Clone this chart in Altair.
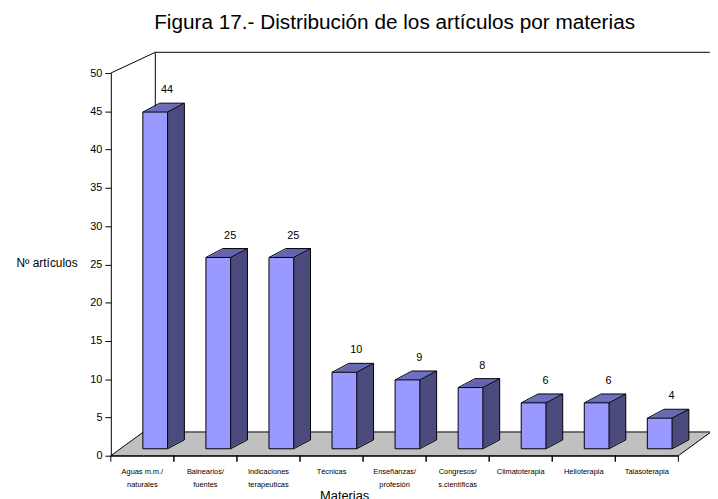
import altair as alt
import pandas as pd

# ---- data ----
categories = [
    "Aguas m.m./\nnaturales",
    "Balnearios/\nfuentes",
    "Indicaciones\nterapeuticas",
    "Técnicas",
    "Enseñanzas/\nprofesión",
    "Congresos/\ns.científicas",
    "Climatoterapia",
    "Helioterapia",
    "Talasoterapia",
]
values = [44, 25, 25, 10, 9, 8, 6, 6, 4]
y_ticks = [0, 5, 10, 15, 20, 25, 30, 35, 40, 45, 50]

title_text = "Figura 17.- Distribución de los artículos por materias"
y_title = "Nº artículos"
x_title = "Materias"

df = pd.DataFrame({"cat": categories, "val": values})

# ---- style / geometry (pixels) ----
FONT = "Liberation Sans, Arial, sans-serif"
FRONT = "#9999FF"
TOP = "#7070C0"
SIDE = "#4B4B7E"
FLOOR = "#C0C0C0"
W = 25          # bar front width
FX = 13         # bar shift right from band centre
BY = -7         # bar base lift above axis
DX, DY = 17, -9  # depth of the 3-D box
N = 9           # extrusion steps
PW, PH = 574, 387
HALF = PW / len(categories) / 2   # half a category step

xscale = alt.Scale(paddingInner=0, paddingOuter=0)
yscale = alt.Scale(domain=[0, 50])

xaxis = alt.Axis(
    title=x_title,
    labelExpr="split(datum.label, '\\n')",
    labelAngle=0,
    labelFont=FONT,
    labelFontSize=7.5,
    labelLineHeight=13,
    labelColor="black",
    labelOverlap=False,
    labelPadding=12,
    ticks=False,
    domainColor="black",
    titleFont=FONT,
    titleFontSize=13,
    titleFontWeight="normal",
    titleColor="black",
    titleX=236,
    titleY=34,
    titleAlign="center",
    titleBaseline="top",
)
yaxis = alt.Axis(
    title=y_title,
    values=y_ticks,
    grid=False,
    labelFont=FONT,
    labelFontSize=11,
    labelColor="black",
    labelPadding=3,
    labelOverlap=False,
    tickSize=6,
    tickColor="black",
    domainColor="black",
    titleFont=FONT,
    titleFontSize=12,
    titleFontWeight="normal",
    titleColor="black",
    titleAngle=0,
    titleAlign="center",
    titleBaseline="middle",
    titleX=-65,
    titleY=192,
)


def X(**kw):
    return alt.X("cat:N", sort=categories, scale=xscale, axis=xaxis, **kw)


def X2(**kw):
    return alt.X2("cat:N", **kw)


def Y(**kw):
    return alt.Y("val:Q", scale=yscale, axis=yaxis, **kw)


def Y0():
    return alt.YDatum(0, scale=yscale, axis=yaxis)


base = alt.Chart(df)

layers = []
# x-axis ticks at the category boundaries
for off in (-HALF, HALF):
    layers.append(
        base.mark_rule(color="black", strokeWidth=1, xOffset=off, x2Offset=off,
                       yOffset=0, y2Offset=6)
        .encode(x=X(), x2=X2(), y=Y0(), y2=alt.Y2Datum(0))
    )

# extrusion of the boxes: back to front
step = -DY / N
for k in range(N, 0, -1):
    ox = FX + DX * k / N
    oy = BY + DY * k / N
    layers.append(
        base.mark_bar(width=W, color=TOP, xOffset=ox, yOffset=oy, y2Offset=oy + step + 0.4)
        .encode(x=X(), y=Y(), y2=alt.Y2("val:Q"))
    )
    layers.append(
        base.mark_bar(width=W, color=SIDE, xOffset=ox, yOffset=oy + step, y2Offset=oy)
        .encode(x=X(), y=Y(), y2=alt.Y2Datum(0))
    )

L = FX - W / 2
R = FX + W / 2
edge = dict(color="black", strokeWidth=1)
# top-left / top-right diagonals
for xo in (L, R):
    layers.append(
        base.mark_rule(xOffset=xo, x2Offset=xo + DX, yOffset=BY, y2Offset=BY + DY, **edge)
        .encode(x=X(), x2=X2(), y=Y(), y2=alt.Y2("val:Q"))
    )
# back top edge
layers.append(
    base.mark_rule(xOffset=L + DX, x2Offset=R + DX, yOffset=BY + DY, y2Offset=BY + DY, **edge)
    .encode(x=X(), x2=X2(), y=Y(), y2=alt.Y2("val:Q"))
)
# back right edge
layers.append(
    base.mark_rule(xOffset=R + DX, x2Offset=R + DX, yOffset=BY + DY, y2Offset=BY + DY, **edge)
    .encode(x=X(), x2=X2(), y=Y(), y2=alt.Y2Datum(0))
)
# bottom-right diagonal
layers.append(
    base.mark_rule(xOffset=R, x2Offset=R + DX, yOffset=BY, y2Offset=BY + DY, **edge)
    .encode(x=X(), x2=X2(), y=Y0(), y2=alt.Y2Datum(0))
)

# front face
layers.append(
    base.mark_bar(
        width=W, color=FRONT, stroke="black", strokeWidth=1, xOffset=FX, yOffset=BY, y2Offset=BY
    ).encode(x=X(), y=Y(), y2=alt.Y2Datum(0))
)

# value labels
layers.append(
    base.mark_text(dx=FX + 12, dy=BY - 22, font=FONT, fontSize=11, color="black")
    .encode(x=X(), y=Y(), text="val:Q")
)

inner = alt.layer(*layers)

# decorative floor and back-wall lines (pixel geometry of the 3-D frame)
floor_df = pd.DataFrame({
    "x": [0, 33, PW, PW + 33],
    "y": [PH, PH - 24, PH - 24, PH - 24],
    "y2": [PH, PH, PH, PH - 24],
})
floor = alt.Chart(floor_df).mark_area(color=FLOOR, stroke="black", strokeWidth=1).encode(
    x=alt.X("x:Q", scale=None, axis=None),
    y=alt.Y("y:Q", scale=None, axis=None),
    y2="y2:Q",
)

wall_df = pd.DataFrame({
    "x": [0, 45, 45],
    "x2": [45, 620, 45],
    "y": [0, -21, -21],
    "y2": [-21, -21, PH - 24],
})
wall = alt.Chart(wall_df).mark_rule(color="black", strokeWidth=1).encode(
    x=alt.X("x:Q", scale=None, axis=None),
    x2="x2:Q",
    y=alt.Y("y:Q", scale=None, axis=None),
    y2="y2:Q",
)

chart = (
    alt.layer(wall, floor, inner)
    .resolve_scale(x="independent", y="independent")
    .properties(
        width=PW,
        height=PH,
        title=alt.TitleParams(
            text=title_text, font=FONT, fontSize=21, fontWeight="normal",
            color="black", anchor="middle", frame="group", offset=19,
        ),
        autosize=alt.AutoSizeParams(type="none"),
        padding={"left": 104, "top": 63, "right": 32, "bottom": 41},
        background="white",
    )
    .configure_view(stroke=None)
)

chart.save("out.html", embed_options={"renderer": "svg", "actions": False})
